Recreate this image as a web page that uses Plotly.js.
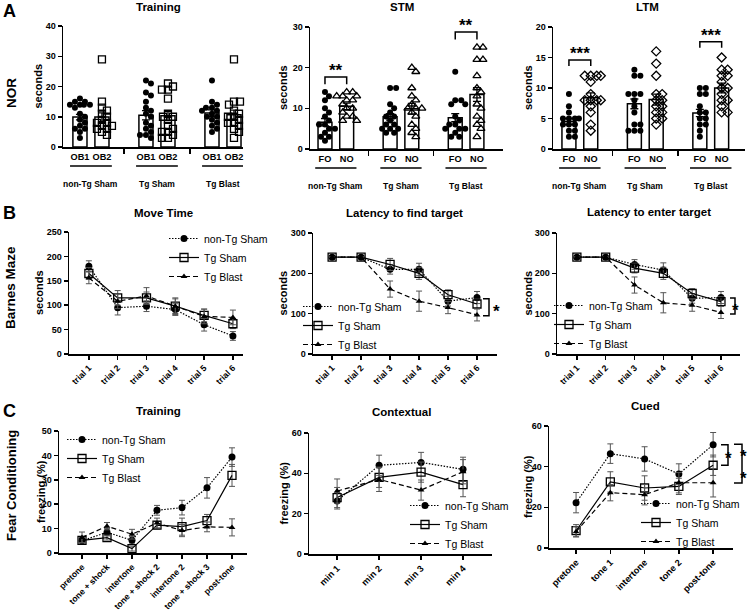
<!DOCTYPE html>
<html>
<head>
<meta charset="utf-8">
<script src="https://cdn.plot.ly/plotly-3.0.1.min.js"></script>
<style>body{margin:0;background:#fff} #plot{width:754px;height:611px}</style>
</head>
<body>
<div id="plot"></div>
<script>
// ---- data ----
var groups = ["non-Tg Sham", "Tg Sham", "Tg Blast"];
var trainLabels = ["OB1", "OB2"];
var testLabels = ["FO", "NO"];

// NOR: individual animals, [non-Tg Sham, Tg Sham, Tg Blast]
var trainOB1 = [[16, 15, 15, 14, 14, 14, 14, 13, 11, 10, 9, 8, 7, 6, 6, 5, 3],
                [22, 21, 18, 17, 15, 13, 12, 11, 10, 8, 7, 6, 5, 4, 4, 3],
                [22, 15, 14, 13, 13, 12, 12, 11, 10, 10, 9, 8, 7, 6, 5]];
var trainOB2 = [[29, 15, 13, 12, 11, 10, 9, 8, 8, 7, 7, 6, 6, 5, 4],
                [21, 20, 19, 19, 16, 11, 10, 10, 9, 7, 6, 5, 5, 4, 3, 3],
                [29, 15, 15, 14, 12, 11, 10, 10, 9, 8, 8, 7, 6, 5, 3]];
var trainMean = [[9.9, 9.9], [10.5, 10.3], [11.2, 10.7]];
var trainSem = [[0.9, 1.4], [1.5, 1.5], [1.1, 1.5]];

var stmFO = [[14, 13, 12, 10, 9, 8, 7, 6, 6, 5, 5, 4, 3, 3, 2],
             [15, 15, 11, 10, 9, 8, 8, 7, 6, 6, 5, 5, 5, 4, 4],
             [19, 12, 12, 11, 11, 8, 7, 6, 6, 5, 5, 5, 4, 3, 3]];
var stmNO = [[14, 14, 13, 13, 13, 12, 12, 11, 10, 10, 9, 8, 8, 7, 7],
             [20, 19, 15, 13, 12, 11, 10, 10, 10, 9, 8, 6, 5, 4, 3],
             [25, 25, 22, 22, 18, 15, 14, 13, 11, 10, 8, 7, 6, 5, 3]];
var stmMean = [[6.6, 10.5], [7.9, 9.9], [7.7, 13.4]];
var stmSem = [[0.9, 0.8], [0.8, 1.3], [1.0, 1.7]];

var ltmFO = [[9, 7, 6, 5, 5, 5, 5, 4, 4, 4, 3, 3, 2, 2],
             [13, 12, 12, 9, 9, 9, 8, 7, 6, 4, 4, 3, 3, 3],
             [10, 10, 9, 9, 7, 6, 6, 5, 5, 4, 4, 3, 2]];
var ltmNO = [[12, 12, 12, 12, 11, 9, 8, 8, 8, 8, 7, 6, 4, 3],
             [16, 14, 12, 9, 9, 8, 8, 7, 7, 6, 6, 5, 5, 4],
             [15, 13, 13, 12, 12, 11, 10, 10, 9, 8, 8, 7, 6, 6]];
var ltmMean = [[4.5, 8.4], [7.4, 8.1], [5.9, 10.0]];
var ltmSem = [[0.5, 0.8], [0.8, 0.9], [0.6, 0.8]];

// Barnes maze
var trials = ["trial 1", "trial 2", "trial 3", "trial 4", "trial 5", "trial 6"];
var moveMean = [[180, 95, 98, 91, 60, 37], [165, 115, 115, 98, 79, 62], [156, 108, 119, 98, 77, 75]];
var moveSem = [[11, 15, 11, 12, 13, 9], [12, 15, 12, 15, 13, 10], [12, 15, 17, 17, 15, 15]];
var findMean = [[240, 240, 210, 210, 131, 140], [240, 240, 222, 200, 147, 124], [240, 240, 161, 131, 115, 97]];
var findSem = [[0, 0, 12, 15, 12, 15], [0, 0, 15, 15, 12, 12], [0, 0, 20, 25, 15, 15]];
var enterMean = [[240, 240, 222, 208, 138, 140], [240, 240, 213, 200, 150, 130], [240, 240, 171, 127, 121, 103]];
var enterSem = [[0, 0, 12, 18, 12, 15], [0, 0, 12, 15, 12, 12], [0, 0, 20, 25, 15, 15]];

// Fear conditioning
var fcSteps = ["pretone", "tone + shock", "intertone", "tone + shock 2", "intertone 2", "tone + shock 3", "post-tone"];
var fcMean = [[5.0, 8.5, 5.2, 17.5, 18.6, 26.7, 39.3], [5.2, 6.3, 1.8, 11.4, 10.8, 13.3, 31.8], [6.4, 11.0, 7.7, 12.3, 9.2, 10.7, 10.5]];
var fcSem = [[1.5, 1.5, 1.5, 2, 3, 4.2, 3.8], [1, 1, 1, 1.5, 3.5, 2.5, 4.5], [2.2, 1.5, 2, 2, 2.5, 2, 3.5]];
var ctxMins = ["min 1", "min 2", "min 3", "min 4"];
var ctxMean = [[26.3, 44.0, 45.4, 42.0], [28.0, 38.0, 40.6, 34.4], [31.2, 37.0, 31.7, 40.8]];
var ctxSem = [[4, 5, 5, 6], [5, 5, 5, 6], [6, 6, 5, 6]];
var cuedSteps = ["pretone", "tone 1", "intertone", "tone 2", "post-tone"];
var cuedMean = [[22.3, 46.4, 43.8, 36.4, 50.8], [8.5, 32.5, 29.5, 30.3, 40.7], [8.0, 27.2, 26.2, 32.1, 32.1]];
var cuedSem = [[5, 4.8, 6, 5, 6], [3, 5, 6, 4, 5], [2.5, 4, 5, 5, 7]];

// ---- layout helpers ----
var W = 754, H = 611;
var FONT = "Liberation Sans, Arial, sans-serif";
var traces = [], annotations = [], shapes = [];
var layout = {
  width: W, height: H, margin: {l: 0, r: 0, t: 0, b: 0},
  paper_bgcolor: "white", plot_bgcolor: "white",
  font: {family: FONT, color: "black"},
  showlegend: true
};

function px(p) { return p / W; }
function py(p) { return 1 - p / H; }

function addAxes(n, xl, xr, yt, yb, xopt, yopt) {
  var s = n === 1 ? "" : String(n);
  var base = {
    showline: true, linewidth: 1.5, linecolor: "black", showgrid: false, zeroline: false,
    ticks: "outside", ticklen: 4, tickwidth: 1.5, tickcolor: "black", fixedrange: true,
    tickfont: {family: FONT, size: 9, weight: "bold", color: "black"}
  };
  layout["xaxis" + s] = Object.assign({}, base, {domain: [px(xl), px(xr)], anchor: "y" + s}, xopt);
  layout["yaxis" + s] = Object.assign({}, base, {domain: [py(yb), py(yt)], anchor: "x" + s}, yopt);
}

function text(t, x, y, size, opt) {
  annotations.push(Object.assign({text: t, x: px(x), y: py(y), xref: "paper", yref: "paper",
    showarrow: false, xanchor: "center", yanchor: "middle",
    font: {family: FONT, size: size, weight: "bold", color: "black"}}, opt || {}));
}

// simple beeswarm: pixel offsets so dots don't overlap
function swarm(vals, xs, ys, diam) {
  var placed = [];
  return vals.map(function (v) {
    var bestOff = 0, bestD = -1;
    for (var k = 0; k <= 20; k++) {
      var off = (k % 2 ? 1 : -1) * Math.ceil(k / 2);
      var dmin = Infinity;
      placed.forEach(function (p) {
        var d = Math.hypot(p[0] - off, p[1] - v * ys);
        if (d < dmin) dmin = d;
      });
      if (dmin >= diam) { bestOff = off; break; }
      if (dmin > bestD) { bestD = dmin; bestOff = off; }
    }
    placed.push([bestOff, v * ys]);
    return bestOff / xs;
  });
}

var starFont = {family: FONT, size: 17, weight: "bold", color: "black"};

// ---- row A: NOR bar + dot plots ----
var norPanels = [
  {n: 1, box: [63, 243, 26, 147], xr: [-0.77, 7.41], yr: [0, 40], dt: 10, a: trainOB1, b: trainOB2,
   mean: trainMean, sem: trainSem, lab: trainLabels, symB: "square-open", title: "Training", tx: 158, ytx: 38},
  {n: 2, box: [310, 503, 27, 149], xr: [-0.69, 8.2], yr: [0, 30], dt: 10, a: stmFO, b: stmNO,
   mean: stmMean, sem: stmSem, lab: testLabels, symB: "triangle-up-open", title: "STM", tx: 402, ytx: 283},
  {n: 3, box: [553, 745, 27, 149], xr: [-0.73, 8.07], yr: [0, 20], dt: 5, a: ltmFO, b: ltmNO,
   mean: ltmMean, sem: ltmSem, lab: testLabels, symB: "diamond-open", title: "LTM", tx: 647, ytx: 528}
];

norPanels.forEach(function (p) {
  var s = p.n === 1 ? "" : String(p.n);
  var bx = p.box;
  var tv = [], tt = [];
  groups.forEach(function (g, gi) { tv.push(gi * 3, gi * 3 + 1); tt.push(p.lab[0], p.lab[1]); });
  addAxes(p.n, bx[0], bx[1], bx[2], bx[3],
    {range: p.xr, tickmode: "array", tickvals: tv, ticktext: tt, ticks: "", tickangle: 0,
     tickfont: {family: FONT, size: 9.2, weight: "bold", color: "black"},
     minor: {tickmode: "array", tickvals: [2, 5], ticks: "outside", ticklen: 5, tickwidth: 1.5, tickcolor: "black"}},
    {range: p.yr, dtick: p.dt, tick0: 0});
  var xs = (bx[1] - bx[0]) / (p.xr[1] - p.xr[0]);
  var ys = (bx[3] - bx[2]) / (p.yr[1] - p.yr[0]);

  var barX = [], barY = [], barE = [];
  groups.forEach(function (g, gi) {
    [0, 1].forEach(function (j) {
      barX.push(gi * 3 + j); barY.push(p.mean[gi][j]); barE.push(p.sem[gi][j]);
    });
  });
  traces.push({type: "bar", x: barX, y: barY, width: 0.64, xaxis: "x" + s, yaxis: "y" + s,
    marker: {color: "white", line: {color: "black", width: 1.5}}, showlegend: false, hoverinfo: "skip"});

  [p.a, p.b].forEach(function (set, j) {
    var X = [], Y = [];
    set.forEach(function (vals, gi) {
      var offs = swarm(vals, xs, ys, 5.5);
      vals.forEach(function (v, i) { X.push(gi * 3 + j + offs[i]); Y.push(v); });
    });
    traces.push({type: "scatter", mode: "markers", x: X, y: Y, xaxis: "x" + s, yaxis: "y" + s,
      cliponaxis: false, showlegend: false,
      marker: j === 0 ? {symbol: "circle", size: 6, color: "black"}
                      : {symbol: p.symB, size: 7, color: "black", line: {width: 1.3, color: "black"}}});
  });
  traces.push({type: "scatter", mode: "markers", x: barX, y: barY, xaxis: "x" + s, yaxis: "y" + s,
    showlegend: false, marker: {size: 1, color: "rgba(0,0,0,0)"},
    error_y: {type: "data", array: barE, color: "black", thickness: 1.3, width: 4}});

  // group underlines + labels
  groups.forEach(function (g, gi) {
    shapes.push({type: "line", xref: "x" + s, yref: "paper", x0: gi * 3 - 0.45, x1: gi * 3 + 1.45,
      y0: py(bx[3] + 19), y1: py(bx[3] + 19), line: {color: "black", width: 1.6}});
    annotations.push({text: g, xref: "x" + s, yref: "paper", x: gi * 3 + 0.5, y: py(bx[3] + 30),
      showarrow: false, font: {family: FONT, size: 8.5, weight: "bold", color: "black"}});
  });
  text(p.title, p.tx, 7, 11.5);
  text("seconds", p.ytx, (bx[2] + bx[3]) / 2, 11, {textangle: -90});
});

// significance brackets on NOR
function barBracket(n, gi, top, leg, stars) {
  var s = String(n);
  shapes.push({type: "path", xref: "x" + s, yref: "y" + s,
    path: "M " + (gi * 3) + "," + leg + " L " + (gi * 3) + "," + top + " L " + (gi * 3 + 1) + "," + top + " L " + (gi * 3 + 1) + "," + leg,
    line: {color: "black", width: 1.5}});
  annotations.push({text: stars, xref: "x" + s, yref: "y" + s, x: gi * 3 + 0.5, y: top, yanchor: "bottom",
    yshift: -5, showarrow: false, font: starFont});
}
barBracket(2, 0, 17.7, 15.9, "**");
barBracket(2, 2, 28.8, 26.9, "**");
barBracket(3, 0, 14.6, 13.6, "***");
barBracket(3, 2, 17.6, 16.6, "***");

// ---- rows B & C: line plots ----
var styles = [
  {dash: "1.5px,1.5px", marker: {symbol: "circle", size: 7, color: "black"}},
  {dash: "solid", marker: {symbol: "square-open", size: 8, color: "black", line: {width: 1.3, color: "black"}}},
  {dash: "5px,3px", marker: {symbol: "triangle-up", size: 6, color: "black"}}
];

var linePanels = [
  {n: 4, box: [69, 243, 232, 354], xr: [-0.69, 5.35], yr: [0, 250], dt: 50, cats: trials, mean: moveMean, sem: moveSem,
   title: "Move Time", tx: 163, ty: 213, ytitle: "seconds", ytx: 39, leg: "legend", lx: 164, ly: 240, fs: 8.7},
  {n: 5, box: [313, 497, 233, 354], xr: [-0.66, 5.69], yr: [0, 300], dt: 100, cats: trials, mean: findMean, sem: findSem,
   title: "Latency to find target", tx: 404, ty: 213, ytitle: "seconds", ytx: 283, leg: "legend2", lx: 298, ly: 308, fs: 8.7},
  {n: 6, box: [557, 740, 233, 354], xr: [-0.69, 5.66], yr: [0, 300], dt: 100, cats: trials, mean: enterMean, sem: enterSem,
   title: "Latency to enter target", tx: 649, ty: 212, ytitle: "seconds", ytx: 528, leg: "legend3", lx: 549, ly: 307, fs: 8.7},
  {n: 7, box: [59, 247, 431, 553], xr: [-0.92, 6.6], yr: [0, 50], dt: 10, cats: fcSteps, mean: fcMean, sem: fcSem,
   title: "Training", tx: 158, ty: 411, ytitle: "freezing (%)", ytx: 41, leg: "legend4", lx: 62, ly: 441, fs: 8.6},
  {n: 8, box: [309, 492, 433, 554], xr: [-0.67, 3.69], yr: [0, 60], dt: 20, cats: ctxMins, mean: ctxMean, sem: ctxSem,
   title: "Contextual", tx: 401, ty: 412, ytitle: "freezing (%)", ytx: 283, leg: "legend5", lx: 405, ly: 507, fs: 9.2},
  {n: 9, box: [549, 733, 426, 548], xr: [-0.79, 4.58], yr: [0, 60], dt: 20, cats: cuedSteps, mean: cuedMean, sem: cuedSem,
   title: "Cued", tx: 645, ty: 406, ytitle: "freezing (%)", ytx: 528, leg: "legend6", lx: 636, ly: 505, fs: 9.2}
];

linePanels.forEach(function (p) {
  var s = String(p.n), bx = p.box;
  addAxes(p.n, bx[0], bx[1], bx[2], bx[3],
    {type: "category", categoryorder: "array", categoryarray: p.cats, range: p.xr, tickangle: -45,
     tickfont: {family: FONT, size: p.fs, weight: "bold", color: "black"}},
    {range: p.yr, dtick: p.dt, tick0: 0});
  groups.forEach(function (g, gi) {
    traces.push({type: "scatter", mode: "lines+markers", name: g, x: p.cats, y: p.mean[gi],
      xaxis: "x" + s, yaxis: "y" + s, legend: p.leg, cliponaxis: false,
      line: {color: "black", width: 1.2, dash: styles[gi].dash}, marker: styles[gi].marker,
      error_y: {type: "data", array: p.sem[gi], color: "#555", thickness: 1, width: 3}});
  });
  // ly is the centre of the first entry in the reference; plotly entries are a bit further apart
  layout[p.leg] = {x: px(p.lx), y: py(p.ly - 16), xanchor: "left", yanchor: "top", bgcolor: "rgba(0,0,0,0)",
    font: {family: FONT, size: 10.5, color: "black"}, itemwidth: 30, tracegroupgap: 0};
  text(p.title, p.tx, p.ty, 11.5);
  text(p.ytitle, p.ytx, (bx[2] + bx[3]) / 2, 11, {textangle: -90});
});

// vertical brackets on line plots (x in pixels, y in data)
function vBracket(n, x0, x1, ya, yb, stars, sx) {
  var s = String(n);
  shapes.push({type: "path", xref: "paper", yref: "y" + s,
    path: "M " + px(x0) + "," + ya + " L " + px(x1) + "," + ya + " L " + px(x1) + "," + yb + " L " + px(x0) + "," + yb,
    line: {color: "black", width: 1.5}});
  annotations.push({text: stars, xref: "paper", yref: "y" + s, x: px(sx), y: (ya + yb) / 2, yshift: -4,
    showarrow: false, font: starFont});
}
vBracket(5, 483, 489, 137, 95, "*", 496);
vBracket(6, 730, 735, 139, 99, "*", 741);
vBracket(9, 721, 728, 50.8, 40.7, "*", 734);
vBracket(9, 734, 742, 51, 32, "*<br>*", 749);

// panel letters and row labels
text("A", 9, 11, 18);
text("B", 9, 213, 18);
text("C", 9, 411, 18);
text("NOR", 11, 93, 13.5, {textangle: -90});
text("Barnes Maze", 11, 288, 13.5, {textangle: -90});
text("Fear Conditioning", 11, 486, 13, {textangle: -90});

layout.annotations = annotations;
layout.shapes = shapes;

Plotly.newPlot("plot", traces, layout, {displayModeBar: false, staticPlot: true});
</script>
</body>
</html>
